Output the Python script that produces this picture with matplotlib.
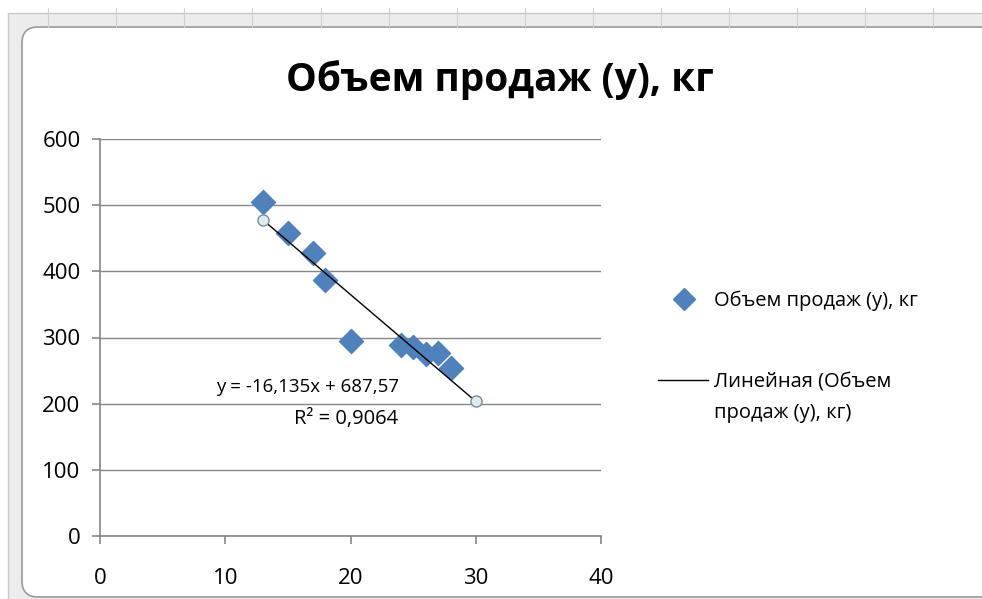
import numpy as np
import matplotlib
matplotlib.use('Agg')
import matplotlib.pyplot as plt
from matplotlib.patches import FancyBboxPatch, Rectangle

plt.rcParams['font.family'] = ['Open Sans', 'DejaVu Sans']

# data
price_x = [13, 15, 17, 18, 20, 24, 25, 26, 27, 28]
sales_y = [505, 458, 428, 387, 295, 289, 286, 275, 277, 254]
trend_slope = -16.135
trend_icept = 687.57
trend_r2 = 0.9064
trend_range = [13, 30]

title = 'Объем продаж (у), кг'
series_name = 'Объем продаж (у), кг'
trend_lines = ['Линейная (Объем', 'продаж (у), кг)']
eq_lines = ['y = -16,135x + 687,57', 'R² = 0,9064']
x_ticks = [0, 10, 20, 30, 40]
y_ticks = [0, 100, 200, 300, 400, 500, 600]

W, H = 982, 599
fig = plt.figure(figsize=(W / 100, H / 100), dpi=100)
fig.patch.set_facecolor('white')

# excel-like frame drawn in pixel coords
bg = fig.add_axes([0, 0, 1, 1], zorder=0)
bg.set_xlim(0, W)
bg.set_ylim(H, 0)
bg.axis('off')
bg.add_patch(Rectangle((8, 13), W, H, facecolor='#ececec', edgecolor='#c8c8c8', lw=1))
for cx in [48, 116, 184, 252, 321, 389, 457, 525, 593, 661, 729, 797, 865, 933]:
    bg.plot([cx, cx], [8, 27], color='#d0d0d0', lw=0.8)
bg.add_patch(FancyBboxPatch((22, 27), W, H - 29,
                            boxstyle='round,pad=0,rounding_size=16',
                            facecolor='white', edgecolor='#9a9a9a', lw=1.2))

ax = fig.add_axes([100 / W, 1 - 536 / H, 501 / W, 397 / H], zorder=1)
ax.set_facecolor('none')

ax.scatter(price_x, sales_y, marker='D', s=150, color='#4f81bd', zorder=3)

tx = np.array(trend_range)
ty = trend_slope * tx + trend_icept
ax.plot(tx, ty, color='black', lw=1, zorder=4)
ax.plot(tx, ty, ls='none', marker='o', ms=8, mfc='#dcedf2', mec='#7a8c99',
        mew=1, zorder=5)

ax.set_xlim(0, 40)
ax.set_ylim(0, 600)
ax.set_xticks(x_ticks)
ax.set_yticks(y_ticks)
ax.yaxis.grid(True, color='#868686', lw=1)
ax.set_axisbelow(True)
for s in ['top', 'right']:
    ax.spines[s].set_visible(False)
for s in ['left', 'bottom']:
    ax.spines[s].set_color('#868686')
    ax.spines[s].set_linewidth(1.2)
ax.tick_params(axis='both', colors='#868686', labelcolor='black', labelsize=16,
               length=6, width=1.2, direction='out')
ax.tick_params(axis='x', pad=17)
ax.tick_params(axis='y', pad=8)

fig.text(500 / W, 1 - 80 / H, title, ha='center', va='center', fontsize=28,
         fontweight='bold')

# overlay in pixel coords: equation label and legend
lg = fig.add_axes([0, 0, 1, 1], zorder=2)
lg.set_xlim(0, W)
lg.set_ylim(H, 0)
lg.axis('off')
lg.text(399, 387, eq_lines[0], ha='right', va='center', fontsize=13.5)
lg.text(398, 419, eq_lines[1], ha='right', va='center', fontsize=14.5)

lg.plot([684], [299], marker='D', ms=11, color='#4f81bd', ls='none')
lg.text(714, 301, series_name, ha='left', va='center', fontsize=14.5)
lg.plot([658, 708], [380, 380], color='black', lw=1)
lg.text(714, 381, trend_lines[0], ha='left', va='center', fontsize=14.5)
lg.text(714, 413, trend_lines[1], ha='left', va='center', fontsize=14.5)

fig.savefig('out.png', dpi=100)
